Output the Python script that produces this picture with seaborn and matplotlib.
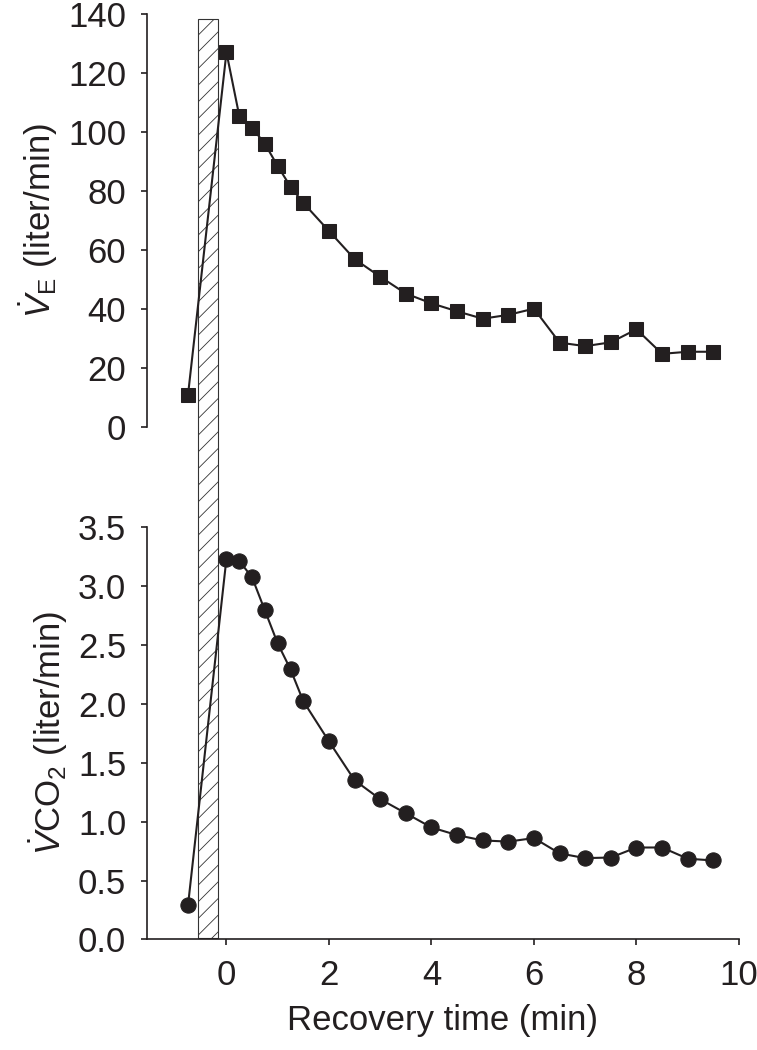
import numpy as np
import pandas as pd
import seaborn as sns
import matplotlib.pyplot as plt
import matplotlib.transforms as mtransforms
from matplotlib.patches import Rectangle

# recovery times (min); first point is the pre-exercise baseline
time_min = [-0.75, 0, 0.25, 0.5, 0.75, 1.0, 1.25, 1.5, 2, 2.5, 3, 3.5, 4, 4.5,
            5, 5.5, 6, 6.5, 7, 7.5, 8, 8.5, 9, 9.5]
ve = [11, 127, 105.5, 101.5, 96, 88.5, 81.5, 76, 66.5, 57, 51, 45.3, 42, 39.3,
      36.8, 38.1, 40.2, 28.7, 27.5, 28.8, 33.2, 24.9, 25.6, 25.6]
vco2 = [0.29, 3.23, 3.21, 3.07, 2.79, 2.51, 2.29, 2.02, 1.68, 1.35, 1.19, 1.07,
        0.95, 0.885, 0.84, 0.83, 0.86, 0.73, 0.69, 0.695, 0.78, 0.78, 0.685, 0.67]
exercise_bout = [-0.55, -0.16]  # hatched bar (start, end)

ve_ticks = [0, 20, 40, 60, 80, 100, 120, 140]
vco2_ticks = [0.0, 0.5, 1.0, 1.5, 2.0, 2.5, 3.0, 3.5]
x_ticks = [0, 2, 4, 6, 8, 10]

df = pd.DataFrame({"time": time_min, "ve": ve, "vco2": vco2})

sns.set_style("ticks")
plt.rcParams["font.family"] = ["Liberation Sans", "DejaVu Sans"]
plt.rcParams["mathtext.fontset"] = "custom"
plt.rcParams["mathtext.rm"] = "Liberation Sans"
plt.rcParams["mathtext.it"] = "Liberation Sans:italic"
plt.rcParams["hatch.linewidth"] = 0.6

ink = "#231f20"
fs = 25

fig = plt.figure(figsize=(7.57, 10.5), dpi=100)
ax_top = fig.add_axes([0.1942, 0.5930, 0.7820, 0.3937])
ax_bot = fig.add_axes([0.1942, 0.10524, 0.7820, 0.39314], sharex=ax_top)

sns.lineplot(data=df, x="time", y="ve", ax=ax_top, color=ink, lw=1.5,
             marker="s", markersize=10, markeredgecolor=ink, clip_on=False)
sns.lineplot(data=df, x="time", y="vco2", ax=ax_bot, color=ink, lw=1.5,
             marker="o", markersize=11, markeredgecolor=ink, clip_on=False)

for ax in (ax_top, ax_bot):
    ax.patch.set_alpha(0)
    for s in ["top", "right"]:
        ax.spines[s].set_visible(False)
    for s in ["left", "bottom"]:
        ax.spines[s].set_linewidth(1.2)
        ax.spines[s].set_color(ink)
    ax.tick_params(direction="out", length=4, width=1.2, color=ink,
                   labelsize=fs, pad=11, labelcolor=ink)

ax_top.spines["bottom"].set_visible(False)
ax_top.tick_params(axis="x", bottom=False, labelbottom=False)
ax_top.set_ylim(0, 140)
ax_top.set_yticks(ve_ticks)
ax_top.set_xlabel("")
ax_top.set_ylabel(r"$\dot{V}_\mathrm{E}$ (liter/min)", fontsize=fs, color=ink, labelpad=6)

ax_bot.tick_params(axis="x", pad=10)
ax_bot.set_xlim(-1.55, 10)
ax_bot.set_ylim(0, 3.5)
ax_bot.set_xticks(x_ticks)
ax_bot.set_yticks(vco2_ticks)
ax_bot.set_yticklabels([f"{v:.1f}" for v in vco2_ticks])
ax_bot.set_xlabel("Recovery time (min)", fontsize=fs, color=ink, labelpad=9)
ax_bot.set_ylabel(r"$\dot{V}\mathrm{CO}_2$ (liter/min)", fontsize=fs, color=ink, labelpad=6)

# hatched exercise bar spanning both panels
trans = mtransforms.blended_transform_factory(ax_bot.transData, fig.transFigure)
rect = Rectangle((exercise_bout[0], 0.1070), exercise_bout[1] - exercise_bout[0],
                 0.9819 - 0.1070, transform=trans, facecolor="white",
                 edgecolor="#333333", hatch="//", lw=0.8, zorder=-1)
fig.add_artist(rect)

fig.savefig("out.png", dpi=100)
